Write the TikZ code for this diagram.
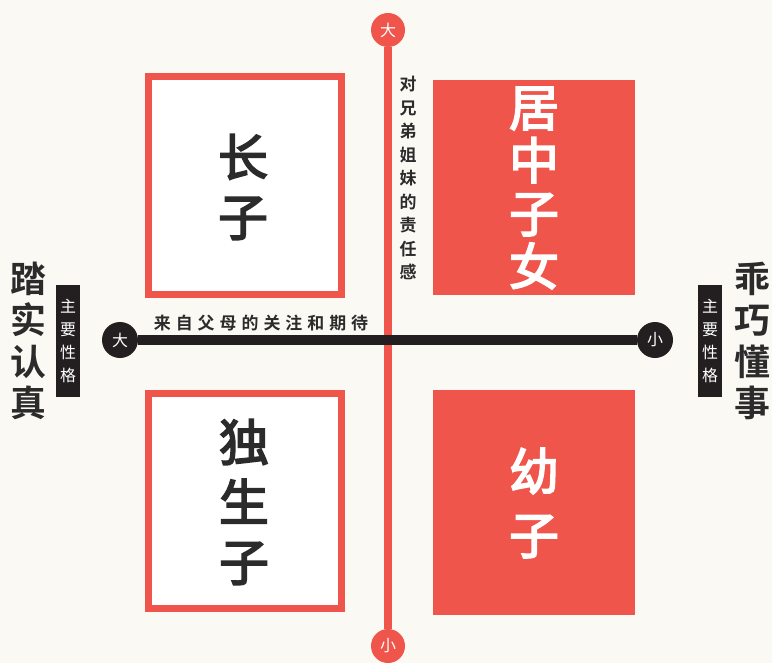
\documentclass[tikz,border=0pt]{standalone}
\usepackage{fontspec}
\newfontfamily\cjk{Noto Sans CJK SC}[BoldFont={Noto Sans CJK SC Bold}]
\newfontfamily\cjkmed{Noto Sans CJK SC}[FakeBold=3.5]
\definecolor{bg}{HTML}{FBF9F3}
\definecolor{rd}{HTML}{F0554B}
\definecolor{bk}{HTML}{231F20}
\definecolor{tx}{HTML}{2B2B2B}
\newcommand{\vstack}[3]{\fontsize{#1}{#2}\selectfont\lineskiplimit=-100bp\lineskip=0bp\vbox{\baselineskip=#2bp\lineskiplimit=-100bp\halign{\hfil##\hfil\cr#3\crcr}}}
\tikzset{
  outbox/.style={draw=rd, line width=7bp, fill=white},
  fullbox/.style={fill=rd},
  bigtxt/.style={font=\cjk\bfseries, text=tx, inner sep=0},
  boxtxt/.style={font=\cjkmed, text=tx, inner sep=0},
  redcirc/.style={circle, fill=rd, minimum size=34bp, inner sep=0, text=white, font=\cjk\fontsize{16}{16}\selectfont},
  blkcirc/.style={circle, fill=bk, minimum size=36bp, inner sep=0, text=white, font=\cjk\fontsize{16}{16}\selectfont},
  tag/.style={fill=bk, text=white, minimum width=24bp, minimum height=112bp, inner sep=0, font=\cjk},
}
\begin{document}
\begin{tikzpicture}[x=1bp,y=-1bp]
\fill[bg] (0,0) rectangle (772,663);
\useasboundingbox (0,0) rectangle (772,663);
% boxes
\draw[outbox] (148.5,76.5) rectangle (341.5,294.5);
\fill[fullbox] (433,80) rectangle (635,295);
\draw[outbox] (148.5,393.5) rectangle (341.5,608.5);
\fill[fullbox] (433,390) rectangle (635,615);
\node[boxtxt] (t1) at (243,187) {\vstack{50}{60}{长\cr 子}};
\node[boxtxt, text=white] (t2) at (534,188) {\vstack{50}{53}{居\cr 中\cr 子\cr 女}};
\node[boxtxt] (t3) at (244,502) {\vstack{50}{60}{独\cr 生\cr 子}};
\node[boxtxt, text=white] (t4) at (534,503) {\vstack{50}{64}{幼\cr 子}};
% axes
\node[redcirc] (vtop) at (388,30) {大};
\node[redcirc] (vbot) at (388,646) {小};
\draw[rd, line width=8bp] (vtop) -- (vbot);
\node[blkcirc] (hl) at (120,340) {大};
\node[blkcirc] (hr) at (655,340) {小};
\draw[bk, line width=10bp] (hl) -- (hr);
% axis labels
\node[font=\cjk\bfseries, text=tx, inner sep=0] (vlab) at (408,178) {\vstack{17}{23.5}{对\cr 兄\cr 弟\cr 姐\cr 妹\cr 的\cr 责\cr 任\cr 感}};
\node[font=\cjk\bfseries\fontsize{17}{17}\selectfont, text=tx, inner sep=0] (hlab) at (261,323) {来\hspace{5bp}自\hspace{5bp}父\hspace{5bp}母\hspace{5bp}的\hspace{5bp}关\hspace{5bp}注\hspace{5bp}和\hspace{5bp}期\hspace{5bp}待};
% side tags
\node[tag] (tagl) at (68,341) {\vstack{16}{23}{主\cr 要\cr 性\cr 格}};
\node[tag] (tagr) at (710,341) {\vstack{16}{23}{主\cr 要\cr 性\cr 格}};
\node[bigtxt] (sl) at (28,341) {\vstack{36}{41.5}{踏\cr 实\cr 认\cr 真}};
\node[bigtxt] (sr) at (752,341) {\vstack{36}{41.5}{乖\cr 巧\cr 懂\cr 事}};
\end{tikzpicture}
\end{document}
